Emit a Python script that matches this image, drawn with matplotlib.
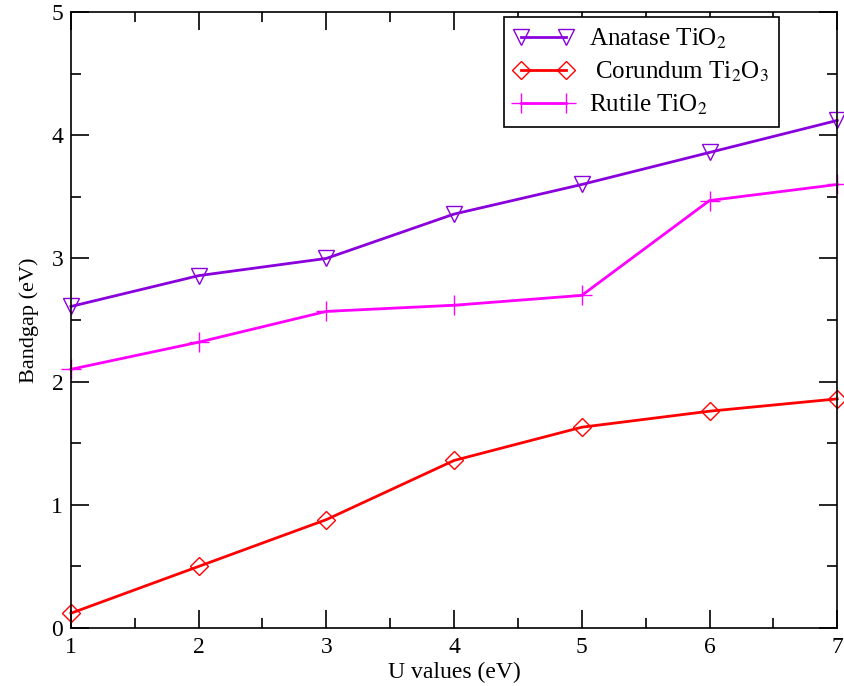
import numpy as np
import matplotlib.pyplot as plt
from matplotlib.ticker import MultipleLocator

plt.rcParams['font.family'] = ['Liberation Serif', 'DejaVu Serif']
plt.rcParams['mathtext.fontset'] = 'stix'

u_values = [1, 2, 3, 4, 5, 6, 7]
anatase = [2.61, 2.86, 3.00, 3.36, 3.60, 3.86, 4.12]
corundum = [0.12, 0.50, 0.88, 1.36, 1.63, 1.76, 1.86]
rutile = [2.10, 2.32, 2.57, 2.62, 2.70, 3.47, 3.60]

fig = plt.figure(figsize=(8.44, 6.86), dpi=100)
ax = fig.add_axes([0.084, 0.0845, 0.908, 0.898])

ax.plot(u_values, anatase, color='#8a00dc', lw=2, marker='v', ms=11,
        mfc='none', mec='#8a00dc', mew=1, label=r'Anatase TiO$_2$', clip_on=False)
ax.plot(u_values, corundum, color='red', lw=2, marker='D', ms=9,
        mfc='none', mec='red', mew=1, label=r' Corundum Ti$_2$O$_3$', clip_on=False)
ax.plot(u_values, rutile, color='magenta', lw=2, marker='+', ms=15,
        mew=1, label=r'Rutile TiO$_2$', clip_on=False)

ax.set_xlim(1, 7)
ax.set_ylim(0, 5)
ax.xaxis.set_major_locator(MultipleLocator(1))
ax.xaxis.set_minor_locator(MultipleLocator(0.5))
ax.yaxis.set_major_locator(MultipleLocator(1))
ax.yaxis.set_minor_locator(MultipleLocator(0.5))
ax.tick_params(which='both', direction='in', top=True, right=True, labelsize=17, width=1.2)
ax.tick_params(which='major', length=13)
ax.tick_params(which='minor', length=7)
ax.tick_params(axis='x', which='major', pad=6.5)
ax.tick_params(axis='y', which='major', pad=5.5)
for s in ax.spines.values():
    s.set_linewidth(1.2)

ax.set_xlabel('U values (eV)', fontsize=17, labelpad=2.5)
ax.set_ylabel('Bandgap (eV)', fontsize=16, labelpad=9)

leg = ax.legend(loc='upper right', bbox_to_anchor=(0.93, 1.0), numpoints=2,
                handlelength=2.4, fontsize=18, fancybox=False, edgecolor='black',
                framealpha=1, borderaxespad=0.2, labelspacing=0.35, handletextpad=0.6)
leg.get_frame().set_linewidth(1.2)

fig.savefig('out.png', dpi=100)
